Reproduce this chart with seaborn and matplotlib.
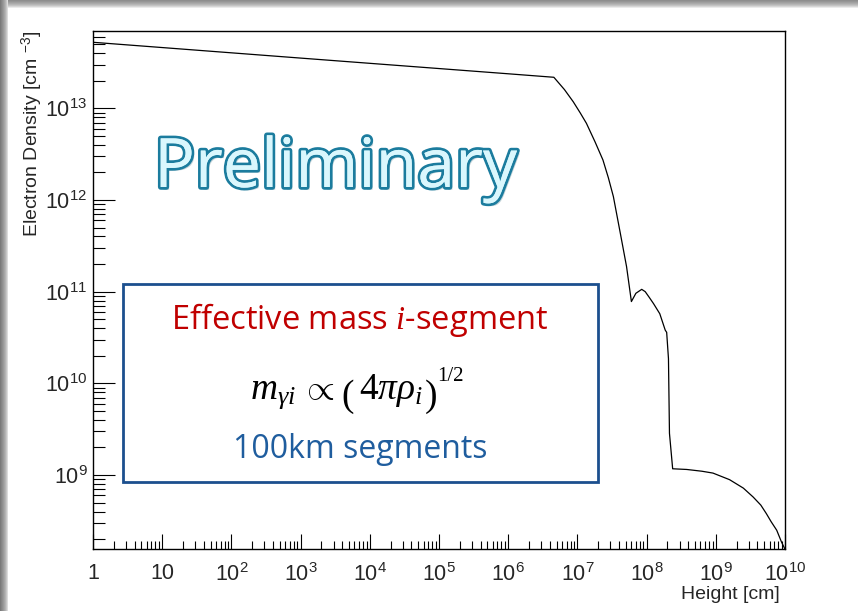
import numpy as np
import pandas as pd
import matplotlib
matplotlib.use("Agg")
import matplotlib.pyplot as plt
import matplotlib.patheffects as pe
from matplotlib.patches import Rectangle
from matplotlib.ticker import LogLocator, FixedLocator, NullFormatter
import seaborn as sns

# ---- data ----
height_cm = [1, 1e3, 1e6, 4.57e6, 6.5e6, 8.7e6, 1.1e7, 1.35e7, 1.8e7, 2.34e7, 2.8e7,
             3.31e7, 4.17e7, 5.13e7, 6.03e7, 7.0e7, 8.5e7, 9.55e7, 1.1e8, 1.26e8,
             1.55e8, 1.86e8, 1.95e8, 2.07e8, 2.14e8, 2.38e8, 3.8e8, 6.3e8, 9.1e8,
             1.58e9, 2.5e9, 3.47e9, 4.47e9, 5.37e9, 6.3e9, 7.59e9, 8.9e9, 1.0e10]
density_cm3 = [5.25e13, 3.53e13, 2.38e13, 2.18e13, 1.6e13, 1.18e13, 8.9e12, 6.86e12,
               4.3e12, 2.73e12, 1.75e12, 1.09e12, 4.34e11, 1.88e11, 7.8e10, 9.6e10,
               1.06e11, 1.0e11, 8.6e10, 7.4e10, 5.75e10, 3.8e10, 3.6e10, 1.86e10,
               2.85e9, 1.17e9, 1.15e9, 1.1e9, 1.05e9, 8.9e8, 7.2e8, 5.75e8, 4.7e8,
               3.8e8, 3.1e8, 2.5e8, 1.86e8, 1.55e8]

x_major = [1, 10, 1e2, 1e3, 1e4, 1e5, 1e6, 1e7, 1e8, 1e9, 1e10]
x_labels = ["1", "10", "10^2", "10^3", "10^4", "10^5", "10^6", "10^7", "10^8", "10^9", "10^10"]
y_major = [1e9, 1e10, 1e11, 1e12, 1e13]
y_labels = ["10^9", "10^10", "10^11", "10^12", "10^13"]

df = pd.DataFrame({"height": height_cm, "density": density_cm3})

sns.set_theme(style="white")
plt.rcParams["font.family"] = ["Liberation Sans", "DejaVu Sans"]
plt.rcParams["mathtext.fontset"] = "custom"
plt.rcParams["mathtext.rm"] = "Liberation Serif"
plt.rcParams["mathtext.it"] = "Liberation Serif:italic"
plt.rcParams["mathtext.sf"] = "Liberation Sans"

W, H = 858, 611
fig = plt.figure(figsize=(W / 100, H / 100), dpi=100)
fig.patch.set_facecolor("white")

def fx(px):
    return px / W

def fy(py):
    return 1 - py / H

# slide shadow strips (left and top)
for i, c in enumerate(["#7a7a7a", "#858585", "#8f8f8f", "#9a9a9a", "#a6a6a6", "#b4b4b4", "#c6c6c6", "#dcdcdc"]):
    fig.patches.append(Rectangle((i / W, 0), 1 / W, 1, transform=fig.transFigure,
                                 facecolor=c, edgecolor="none", zorder=0))
for i, c in enumerate(["#8e8e8e", "#969696", "#a0a0a0", "#aaaaaa", "#b6b6b6", "#c4c4c4", "#d6d6d6", "#ebebeb"]):
    fig.patches.append(Rectangle((8 / W, 1 - (i + 1) / H), 1, 1 / H, transform=fig.transFigure,
                                 facecolor=c, edgecolor="none", zorder=0))

ax = fig.add_axes([fx(93), fy(549), (785 - 93) / W, (549 - 31) / H])
ax.set_facecolor("white")
sns.lineplot(data=df, x="height", y="density", ax=ax, color="black", linewidth=0.9,
             estimator=None, sort=False)
ax.set_xscale("log")
ax.set_yscale("log")
ax.set_xlim(1, 1e10)
ax.set_ylim(1.56e8, 6.97e13)

def fmt(lbl):
    if "^" in lbl:
        b, e = lbl.split("^")
        return r"$\mathsf{%s^{%s}}$" % (b, e)
    return lbl

ax.xaxis.set_major_locator(FixedLocator(x_major))
ax.set_xticklabels([fmt(s) for s in x_labels])
ax.yaxis.set_major_locator(FixedLocator(y_major))
ax.set_yticklabels([fmt(s) for s in y_labels])
ax.xaxis.set_minor_locator(LogLocator(base=10, subs=np.arange(2, 10), numticks=30))
ax.yaxis.set_minor_locator(LogLocator(base=10, subs=np.arange(2, 10), numticks=30))
ax.xaxis.set_minor_formatter(NullFormatter())
ax.yaxis.set_minor_formatter(NullFormatter())

ax.tick_params(axis="x", which="major", direction="in", length=11, width=0.8, color="black",
               labelsize=15.5, pad=10, bottom=True, top=False)
ax.tick_params(axis="x", which="minor", direction="in", length=6, width=0.8, color="black",
               bottom=True, top=False)
ax.tick_params(axis="y", which="major", direction="in", length=16, width=0.8, color="black",
               labelsize=15.5, pad=4, left=True, right=False)
ax.tick_params(axis="y", which="minor", direction="in", length=8.5, width=0.8, color="black",
               left=True, right=False)
for s in ax.spines.values():
    s.set_color("black")
    s.set_linewidth(1.0)
    s.set_visible(True)

ax.set_xlabel("Height [cm]", fontsize=14, loc="right", labelpad=0)
ax.set_ylabel(r"Electron Density [cm $^{\mathsf{-3}}$]", fontsize=14, loc="top", labelpad=0)
ax.xaxis.label.set_x(0.993)
ax.grid(False)

# "Preliminary" overlay
fig.text(fx(335), fy(187), "Preliminary", fontsize=49, family="Open Sans",
         color="#daf7fd", ha="center", va="baseline", zorder=10,
         path_effects=[pe.SimplePatchShadow(offset=(2, -2), shadow_rgbFace="#9fb8c0", alpha=0.6),
                       pe.withStroke(linewidth=4, foreground="#1b7c9e"),
                       pe.Normal()])

# annotation box
fig.patches.append(Rectangle((fx(123), fy(482)), (598 - 123) / W, (482 - 284) / H,
                             transform=fig.transFigure, facecolor="white", edgecolor="#1c4f8e",
                             linewidth=2.0, zorder=9))
fig.text(fx(360), fy(329), r"Effective mass $\mathit{i}$-segment", fontsize=23.5,
         family="Open Sans", color="#c00000", ha="center", va="baseline", zorder=11)
fig.text(fx(360), fy(458), "100km segments", fontsize=23, family="Open Sans",
         color="#1f5d9e", ha="center", va="baseline", zorder=11)

# formula laid out piece by piece (gap before piece in px, baseline in px)
pieces = [
    (r"$m_{\gamma i}$", dict(fontsize=27), 0, 399),
    (r"$\propto$", dict(fontsize=26), 5, 399),
    ("(", dict(fontsize=27, family="Liberation Serif"), 7, 406),
    (r"$4\pi\rho_{i}$", dict(fontsize=27), 5, 399),
    (")", dict(fontsize=27, family="Liberation Serif"), 2, 406),
    ("1/2", dict(fontsize=15, family="Liberation Serif"), 0, 381),
]
renderer = fig.canvas.get_renderer()
arts = []
cur = 0.0
for txt, kw, gap, base in pieces:
    cur += gap
    t = fig.text(0, fy(base), txt, color="black", ha="left", va="baseline", zorder=11, **kw)
    bb = t.get_window_extent(renderer)
    arts.append((t, cur))
    cur += bb.width
start = 357 - cur / 2
for t, off in arts:
    t.set_x(fx(start + off))

fig.savefig("out.png", dpi=100)
